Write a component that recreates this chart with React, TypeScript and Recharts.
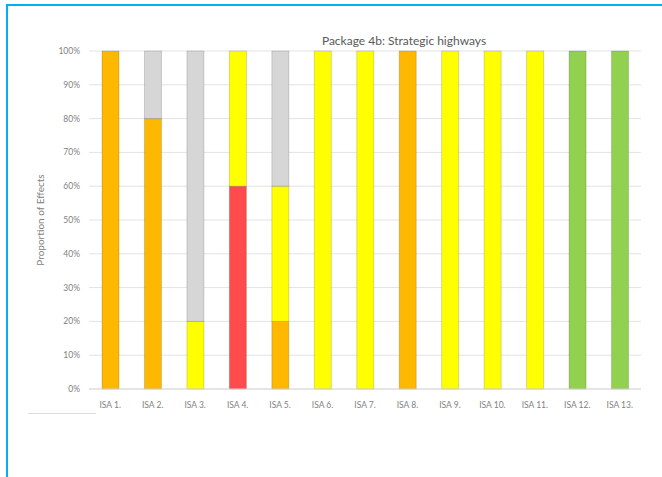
import { BarChart, Bar, XAxis, YAxis, CartesianGrid } from 'recharts';

const CATEGORIES = ['ISA 1.', 'ISA 2.', 'ISA 3.', 'ISA 4.', 'ISA 5.', 'ISA 6.', 'ISA 7.', 'ISA 8.', 'ISA 9.', 'ISA 10.', 'ISA 11.', 'ISA 12.', 'ISA 13.'];

// share of effects per assessment, in percent
const GREEN = [0, 0, 0, 0, 0, 0, 0, 0, 0, 0, 0, 100, 100];
const RED = [0, 0, 0, 60, 0, 0, 0, 0, 0, 0, 0, 0, 0];
const ORANGE = [100, 80, 0, 0, 20, 0, 0, 100, 0, 0, 0, 0, 0];
const YELLOW = [0, 0, 20, 40, 40, 100, 100, 0, 100, 100, 100, 0, 0];
const GREY = [0, 20, 80, 0, 40, 0, 0, 0, 0, 0, 0, 0, 0];

const Y_TICKS = [0, 10, 20, 30, 40, 50, 60, 70, 80, 90, 100];

const data = CATEGORIES.map((name, i) => ({
  name,
  green: GREEN[i],
  red: RED[i],
  orange: ORANGE[i],
  yellow: YELLOW[i],
  grey: GREY[i],
}));

const SERIES = [
  { key: 'green', fill: '#92D050' },
  { key: 'red', fill: '#FF4B4B' },
  { key: 'orange', fill: '#FFB800' },
  { key: 'yellow', fill: '#FFFF00' },
  { key: 'grey', fill: '#D6D6D6' },
];

const FONT = 'Lato, "Open Sans", sans-serif';

export default function App() {
  return (
    <div style={{ position: 'absolute', left: 0, top: 0, width: 662, height: 477, background: '#fff', fontFamily: FONT }}>
      {/* frame lines */}
      <div style={{ position: 'absolute', left: 6, top: 4, right: 0, height: 2, background: '#00B0F0' }} />
      <div style={{ position: 'absolute', left: 6, top: 4, width: 2, bottom: 0, background: '#00B0F0' }} />
      <div style={{ position: 'absolute', left: 28, top: 413, width: 68, height: 1, background: '#dcdcdc' }} />

      <div style={{ position: 'absolute', left: 298, width: 212, top: 33, textAlign: 'center', fontSize: 12, color: '#595959' }}>
        Package 4b: Strategic highways
      </div>

      <BarChart
        width={662}
        height={477}
        data={data}
        margin={{ top: 51, right: 21, bottom: 58, left: 0 }}
        barSize={17}
        style={{ position: 'absolute', left: 0, top: 0 }}
      >
        <CartesianGrid vertical={false} stroke="#e3e3e3" />
        <XAxis
          dataKey="name"
          height={30}
          tickLine={false}
          axisLine={{ stroke: '#d9d9d9' }}
          tick={{ fill: '#7f7f7f', fontSize: 8.5, fontFamily: FONT }}
          tickMargin={7}
          interval={0}
        />
        <YAxis
          width={89}
          domain={[0, 100]}
          ticks={Y_TICKS}
          tickFormatter={(v: number) => `${v}%`}
          tickLine={false}
          axisLine={false}
          tickMargin={3}
          tick={{ fill: '#7f7f7f', fontSize: 8.5, fontFamily: FONT }}
          label={{
            value: 'Proportion of Effects',
            angle: -90,
            position: 'insideLeft',
            offset: 40,
            style: { fill: '#7f7f7f', fontSize: 10, fontFamily: FONT, textAnchor: 'middle' },
          }}
        />
        {SERIES.map((s) => (
          <Bar
            key={s.key}
            dataKey={s.key}
            stackId="a"
            fill={s.fill}
            stroke="rgba(0,0,0,0.22)"
            strokeWidth={0.7}
            isAnimationActive={false}
          />
        ))}
      </BarChart>
    </div>
  );
}
